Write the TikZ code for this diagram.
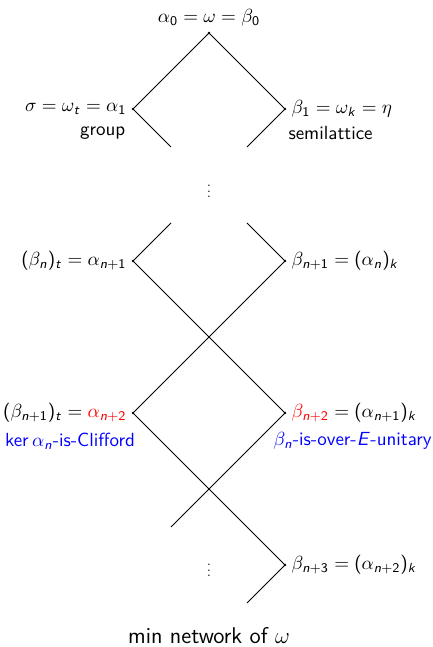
\documentclass[tikz,border=0pt]{standalone}
\usetikzlibrary{positioning}
\DeclareSymbolFont{sfletters}{OT1}{cmss}{m}{sl}
\SetSymbolFont{operators}{normal}{OT1}{cmss}{m}{n}
\DeclareMathSymbol{n}{\mathalpha}{sfletters}{`n}
\DeclareMathSymbol{t}{\mathalpha}{sfletters}{`t}
\DeclareMathSymbol{k}{\mathalpha}{sfletters}{`k}
\DeclareMathSymbol{E}{\mathalpha}{sfletters}{`E}

\begin{document}
\begin{tikzpicture}[x=40pt,y=40pt,
  vtx/.style={circle,fill,inner sep=0pt,minimum size=1.4pt},
  txt/.style={font=\sffamily}]
\useasboundingbox (-2.75,0.434) rectangle (2.947,-8.079);
% lattice points
\node[vtx] (a0) at (0,0) {};
\node[vtx] (a1) at (-1,-1) {};
\node[vtx] (b1) at (1,-1) {};
\node[vtx] (an1) at (-1,-3) {};
\node[vtx] (bn1) at (1,-3) {};
\node[vtx] (an2) at (-1,-5) {};
\node[vtx] (bn2) at (1,-5) {};
\node[vtx] (bn3) at (1,-7) {};
\coordinate (s1) at (-0.5,-1.5);
\coordinate (s2) at (0.5,-1.5);
\coordinate (s3) at (-0.5,-2.5);
\coordinate (s4) at (0.5,-2.5);
\coordinate (s5) at (-0.5,-6.5);
\coordinate (s6) at (0.5,-7.5);
% lines
\draw (a1.center) -- (a0.center) -- (b1.center);
\draw (a1.center) -- (s1);
\draw (b1.center) -- (s2);
\draw (s3) -- (an1.center) -- (bn2.center) -- (s5);
\draw (s4) -- (bn1.center) -- (an2.center) -- (bn3.center) -- (s6);
% labels
\node[above] (la0) at (a0) {$\alpha_0=\omega=\beta_0$};
\node[left] (la1) at (a1) {$\sigma=\omega_t=\alpha_1$};
\node[right] (lb1) at (b1) {$\beta_1=\omega_k=\eta$};
\node[left] (lan1) at (an1) {$(\beta_n)_t=\alpha_{n+1}$};
\node[right] (lbn1) at (bn1) {$\beta_{n+1}=(\alpha_n)_k$};
\node[left] (lan2) at (an2) {$(\beta_{n+1})_t=\textcolor{red}{\alpha_{n+2}}$};
\node[right] (lbn2) at (bn2) {$\textcolor{red}{\beta_{n+2}}=(\alpha_{n+1})_k$};
\node[right] (lbn3) at (bn3) {$\beta_{n+3}=(\alpha_{n+2})_k$};
\node[txt] (grp) at (-1.4,-1.316) {group};
\node[txt] (slat) at (1.6,-1.316) {semilattice};
\node[txt,blue] (cliff) at (-1.83,-5.37) {$\ker\alpha_n$-is-Clifford};
\node[txt,blue] (euni) at (1.89,-5.37) {$\beta_n$-is-over-$E$-unitary};
\node (dots1) at (0,-2.03) {\scalebox{0.72}{$\vdots$}};
\node (dots2) at (0,-7.02) {\scalebox{0.72}{$\vdots$}};
\node[txt,font=\sffamily\large,anchor=base] (cap) at (0,-8.03) {min network of $\omega$};
\end{tikzpicture}
\end{document}
